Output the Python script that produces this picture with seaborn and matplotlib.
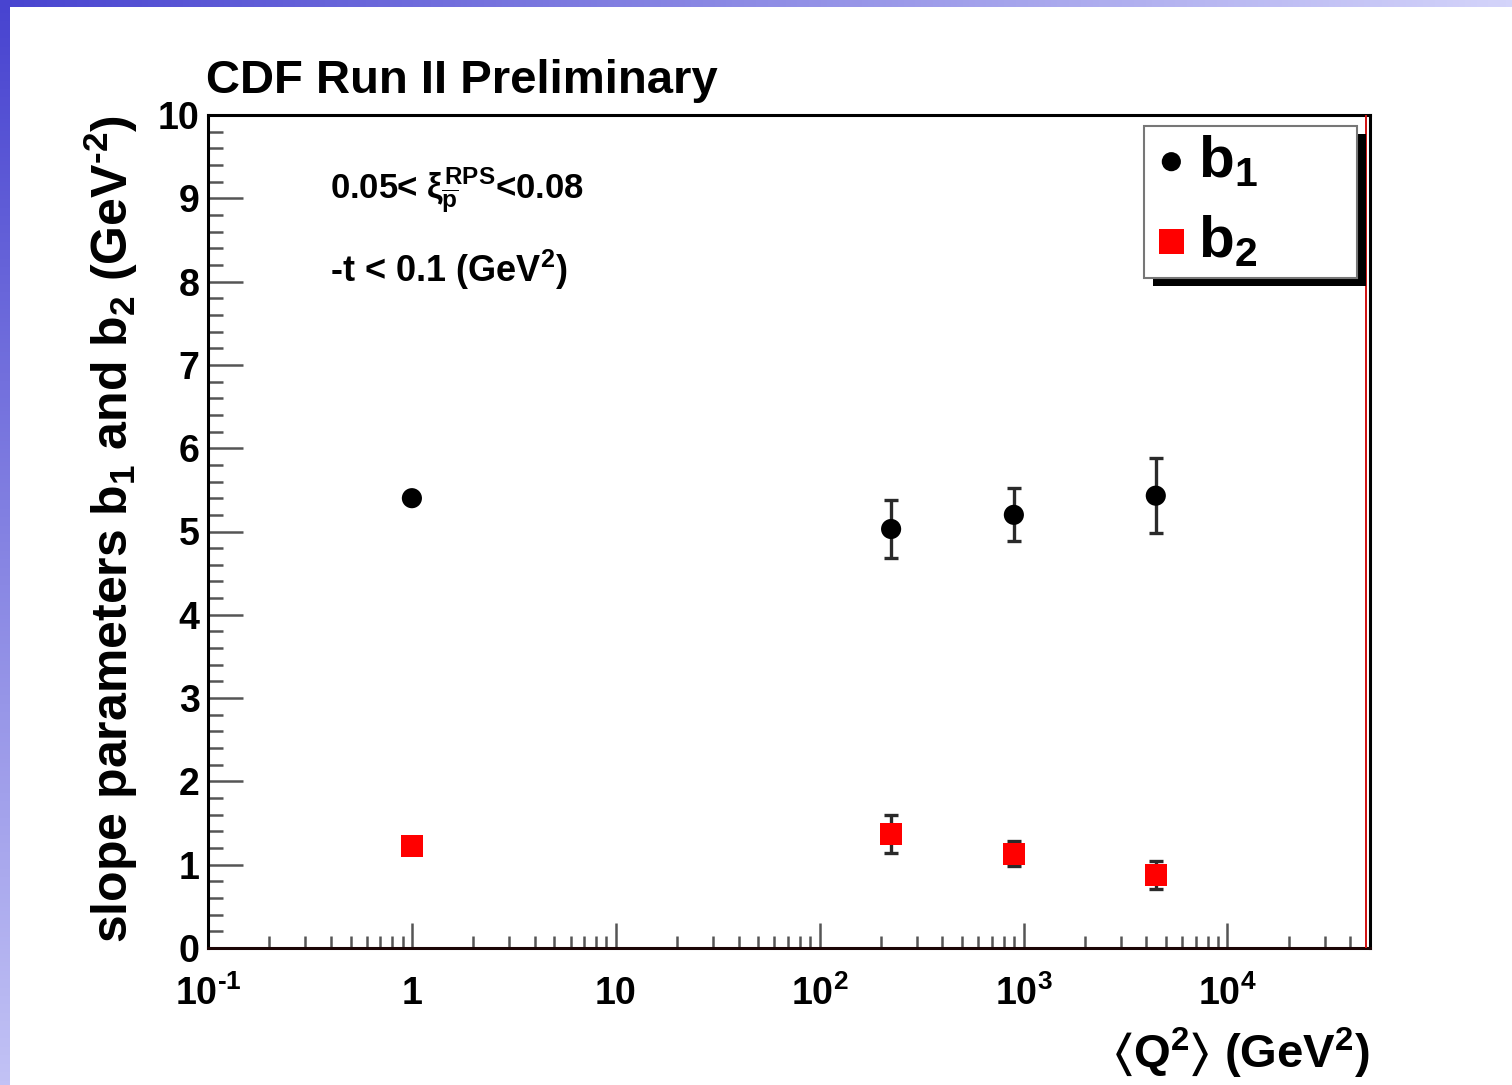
import numpy as np
import pandas as pd
import matplotlib
matplotlib.use("Agg")
import matplotlib.pyplot as plt
from matplotlib.patches import Rectangle
from matplotlib.ticker import FixedLocator, FixedFormatter, LogLocator, MultipleLocator, NullFormatter
import seaborn as sns

# ---- data -------------------------------------------------------------
q2 = [1.0, 224.0, 896.0, 4450.0]            # <Q^2> (GeV^2)
b1 = [5.40, 5.03, 5.20, 5.43]               # slope b1 (GeV^-2)
b1_err = [0.0, 0.35, 0.32, 0.45]
b2 = [1.22, 1.37, 1.13, 0.88]               # slope b2 (GeV^-2)
b2_err = [0.0, 0.23, 0.15, 0.17]

x_ticks = [0.1, 1, 10, 100, 1000, 10000]
x_tick_labels = [r"$10^{\text{-}1}$", "1", "10", r"$10^{2}$", r"$10^{3}$", r"$10^{4}$"]
y_ticks = list(range(0, 11))

df1 = pd.DataFrame({"q2": q2, "b": b1})
df2 = pd.DataFrame({"q2": q2, "b": b2})

# ---- style ------------------------------------------------------------
sns.set_theme(style="white")
plt.rcParams["font.family"] = ["Liberation Sans", "DejaVu Sans"]
plt.rcParams["font.weight"] = "bold"
plt.rcParams["text.color"] = "black"
plt.rcParams["xtick.color"] = "black"
plt.rcParams["ytick.color"] = "black"
plt.rcParams["xtick.labelcolor"] = "black"
plt.rcParams["ytick.labelcolor"] = "black"
plt.rcParams["mathtext.fontset"] = "custom"
plt.rcParams["mathtext.rm"] = "Liberation Sans:bold"
plt.rcParams["mathtext.it"] = "Liberation Sans:bold"
plt.rcParams["mathtext.bf"] = "Liberation Sans:bold"
plt.rcParams["mathtext.sf"] = "Liberation Sans:bold"
plt.rcParams["mathtext.fallback"] = "stixsans"

W, H = 1512, 1085
fig = plt.figure(figsize=(W / 100, H / 100), dpi=100)
fig.patch.set_facecolor("white")


def fx(px):
    return px / W


def fy(py):
    return 1 - py / H


# slide background strips (top and left)
bg = fig.add_axes([0, 0, 1, 1], zorder=-5)
bg.set_axis_off()
bg.set_xlim(0, W)
bg.set_ylim(H, 0)
c0 = np.array([0x48, 0x44, 0xd0]) / 255
c1 = np.array([0xd4, 0xd4, 0xfa]) / 255
c2 = np.array([0xc2, 0xc2, 0xf5]) / 255
t = np.linspace(0, 1, 256)
top_grad = (c0[None, :] * (1 - t[:, None]) + c1[None, :] * t[:, None])[None, :, :]
left_grad = (c0[None, :] * (1 - t[:, None]) + c2[None, :] * t[:, None])[:, None, :]
bg.imshow(top_grad, extent=[0, W, 7, 0], aspect="auto")
bg.imshow(left_grad, extent=[0, 10, H, 0], aspect="auto")

# ---- main axes --------------------------------------------------------
L, R, T, B = 208, 1370, 115, 948
ax = fig.add_axes([fx(L), fy(B), fx(R - L), (B - T) / H])
ax.set_facecolor("white")

ax.errorbar(q2, b1, yerr=b1_err, fmt="none", ecolor="#2a2a2a", elinewidth=2.4,
            capsize=5, capthick=2.4, zorder=2)
ax.errorbar(q2, b2, yerr=b2_err, fmt="none", ecolor="#2a2a2a", elinewidth=2.4,
            capsize=5, capthick=2.4, zorder=2)
sns.scatterplot(data=df1, x="q2", y="b", ax=ax, marker="o", color="black",
                s=210, edgecolor="none", label=r"b$_1$", zorder=3)
sns.scatterplot(data=df2, x="q2", y="b", ax=ax, marker="s", color="red",
                s=250, edgecolor="none", label=r"b$_2$", zorder=3)

ax.set_xscale("log")
ax.set_xlim(0.1, 5e4)
ax.set_ylim(0, 10)
ax.set_xlabel("")
ax.set_ylabel("")

ax.xaxis.set_major_locator(FixedLocator(x_ticks))
ax.xaxis.set_major_formatter(FixedFormatter(x_tick_labels))
ax.xaxis.set_minor_locator(LogLocator(base=10, subs=np.arange(2, 10), numticks=20))
ax.xaxis.set_minor_formatter(NullFormatter())
ax.yaxis.set_major_locator(FixedLocator(y_ticks))
ax.yaxis.set_minor_locator(MultipleLocator(0.2))

ax.tick_params(axis="both", which="both", direction="in", color="#555555",
               labelcolor="black", bottom=True, left=True, top=False,
               right=False, labelsize=27)
ax.tick_params(axis="y", which="major", length=25, width=1.8, pad=6)
ax.tick_params(axis="y", which="minor", length=11, width=1.8)
ax.tick_params(axis="x", which="major", length=18, width=1.8, pad=20)
ax.tick_params(axis="x", which="minor", length=9, width=1.8)
for lab in ax.get_xticklabels() + ax.get_yticklabels():
    lab.set_fontweight("bold")

for side in ["left", "bottom", "top", "right"]:
    ax.spines[side].set_visible(True)
    ax.spines[side].set_color("black")
    ax.spines[side].set_linewidth(2.2)
ax.spines["bottom"].set_color("#1c0505")
ax.plot([0.9965, 0.9965], [0, 1], transform=ax.transAxes, color="#d01010",
        lw=1.4, zorder=4)

# ---- texts ------------------------------------------------------------
fig.text(fx(206), fy(93), "CDF Run II Preliminary", fontsize=34,
         fontweight="bold", ha="left", va="baseline")
fig.text(fx(1370), fy(1068), r"$\langle$Q$^{2}$$\rangle$ (GeV$^{2}$)", fontsize=34,
         fontweight="bold", ha="right", va="baseline")
fig.text(fx(128), fy(115), r"slope parameters b$_1$ and b$_2$ (GeV$^{\text{-}2}$)",
         fontsize=36, fontweight="bold", rotation=90, ha="right", va="baseline",
         rotation_mode="anchor")
fig.text(fx(330), fy(198), r"0.05< $\xi^{RPS}_{\overline{p}}$<0.08", fontsize=25,
         fontweight="bold", ha="left", va="baseline")
fig.text(fx(330), fy(282), r"-t < 0.1 (GeV$^{2}$)", fontsize=26,
         fontweight="bold", ha="left", va="baseline")

# ---- legend box with drop shadow ---------------------------------------
bx0, by0, bx1, by1 = 1144, 126, 1357, 278
ax.add_patch(Rectangle((fx(bx0 + 9), fy(by1 + 8)), fx(bx1 - bx0), (by1 - by0) / H,
                       transform=fig.transFigure, facecolor="black",
                       edgecolor="none", zorder=5, clip_on=False))
ax.add_patch(Rectangle((fx(bx0), fy(by1)), fx(bx1 - bx0), (by1 - by0) / H,
                       transform=fig.transFigure, facecolor="white",
                       edgecolor="#777777", lw=1.5, zorder=6, clip_on=False))
leg = ax.legend(loc="upper left", bbox_to_anchor=(fx(1148), fy(134)),
                bbox_transform=fig.transFigure, frameon=False, fontsize=42,
                handletextpad=0.05, handlelength=0.8, borderpad=0.0,
                labelspacing=0.42, borderaxespad=0)
leg.set_zorder(7)
hs = leg.legend_handles
hs[0].set_sizes([190])
hs[1].set_sizes([330])

fig.savefig("out.png", dpi=100)
